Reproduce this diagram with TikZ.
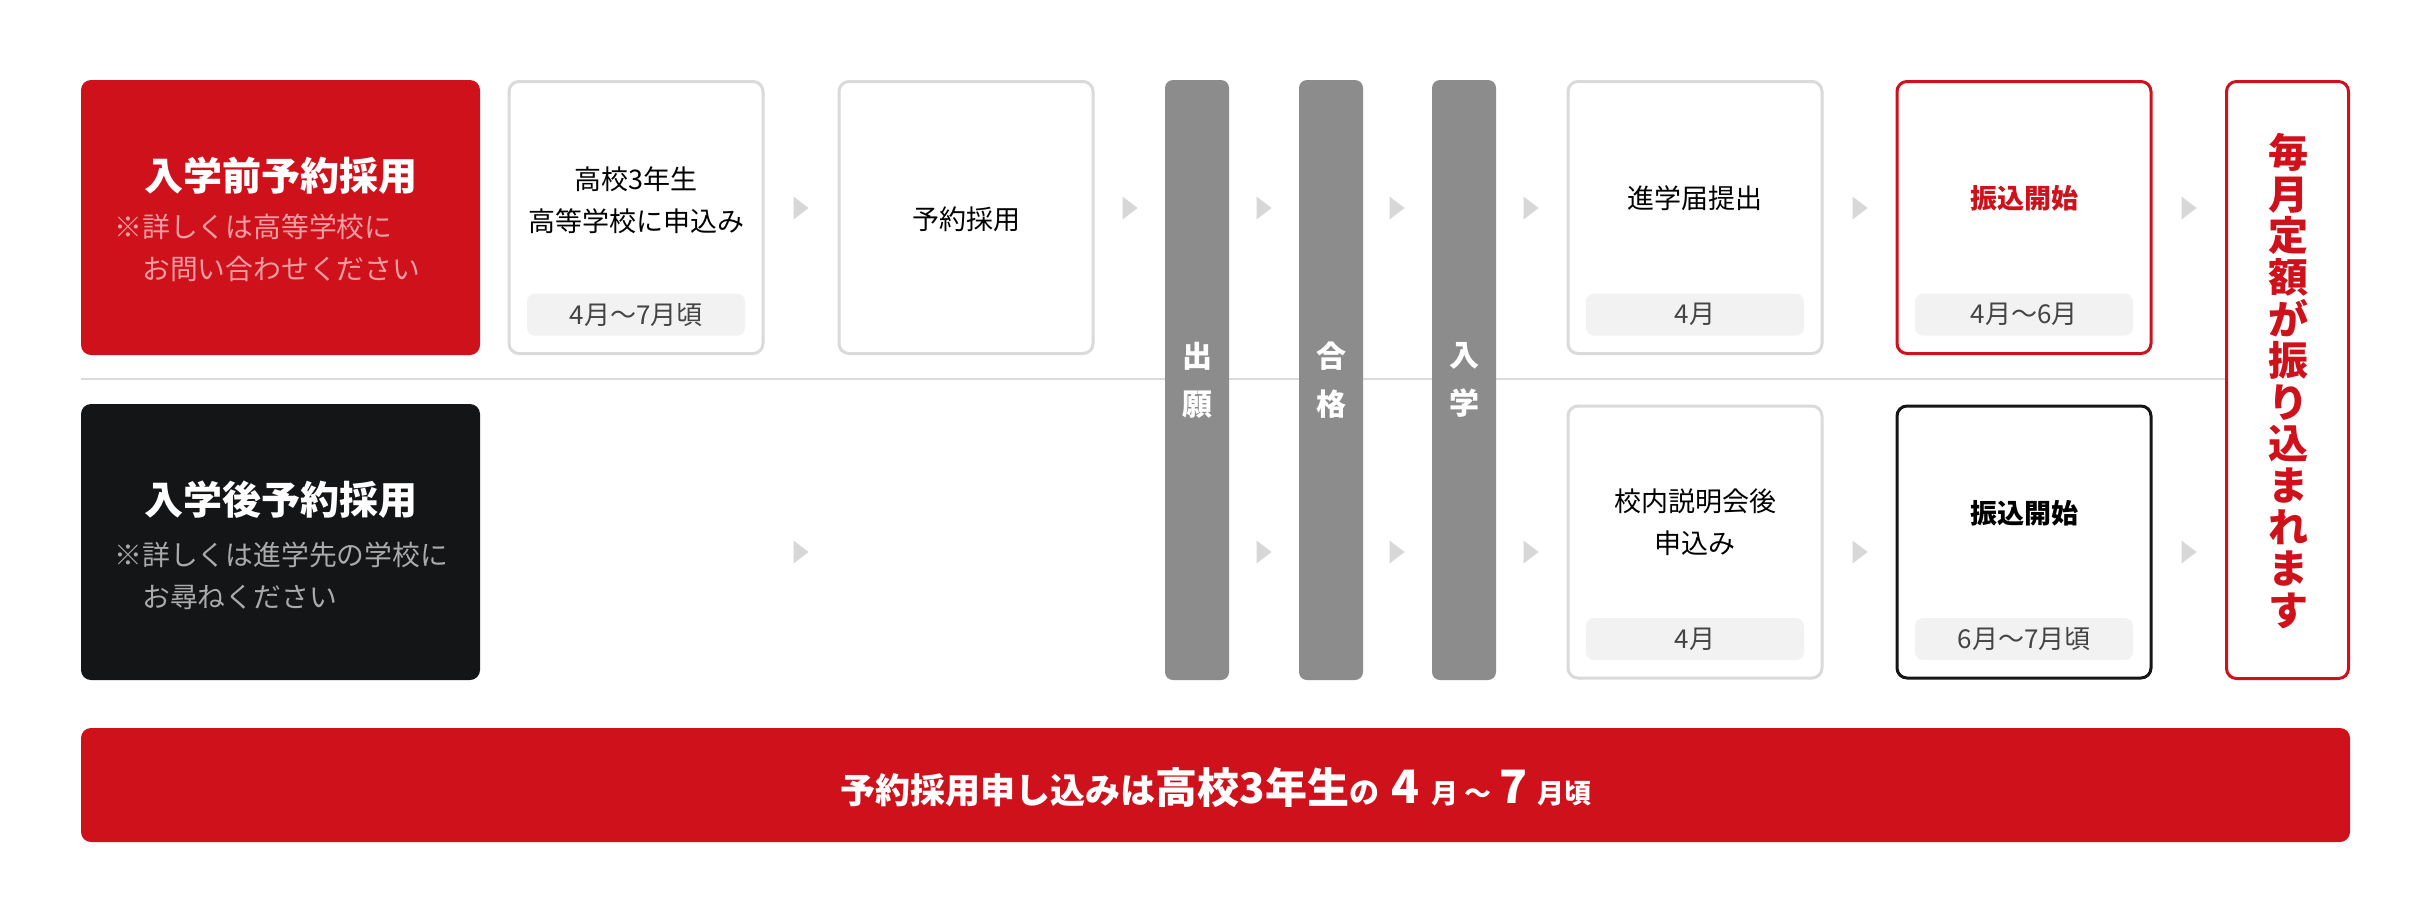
\documentclass[tikz,border=0pt]{standalone}
\usepackage{fontspec}
\setmainfont{Noto Sans CJK JP}
\usetikzlibrary{positioning}

\definecolor{xred}{RGB}{206,17,27}
\definecolor{xpink}{RGB}{242,158,163}
\definecolor{xblack}{RGB}{20,21,23}
\definecolor{xsub}{RGB}{170,170,170}
\definecolor{xbar}{RGB}{140,140,140}
\definecolor{xline}{RGB}{218,218,218}
\definecolor{xtag}{RGB}{242,242,242}
\definecolor{xtagtext}{RGB}{68,68,68}
\definecolor{xarrow}{RGB}{215,215,215}

\begin{document}
\begin{tikzpicture}[x=0.5pt, y=-0.5pt,
  kind/.style={shape = rectangle, rounded corners = 5pt, minimum width = 199.5pt, minimum height = 137.5pt, inner sep = 0pt},
  stepbox/.style={draw = xline, line width = 1.5pt, fill = white, shape = rectangle, rounded corners = 5pt, minimum width = 127pt, minimum height = 136pt, inner sep = 0pt},
  tag/.style={fill = xtag, rounded corners = 4pt, minimum width = 109pt, minimum height = 21pt, inner sep = 0pt, text = xtagtext, font = \fontsize{13pt}{16pt}\selectfont},
  steptext/.style={align = center, inner sep = 0pt, font = \fontsize{13.5pt}{21pt}\selectfont},
  bar/.style={fill = xbar, rounded corners = 4pt, minimum width = 32pt, minimum height = 300pt, inner sep = 0pt},
  bartext/.style={align = center, inner sep = 0pt, text = white, font = \bfseries\fontsize{15pt}{24pt}\selectfont},
  title/.style={inner sep = 0pt, text = white, font = \bfseries\fontsize{19.5pt}{22pt}\selectfont},
  note/.style={align = left, inner sep = 0pt, anchor = west, font = \fontsize{13.9pt}{21pt}\selectfont}]
\fill[white] (0,0) rectangle (2432,922);
\useasboundingbox (0,0) rectangle (2432,922);

% divider between the two rows
\draw[xline, line width = 1pt] (81,379) -- (2225,379);

% left labels
\node[kind, fill = xred] (10) at (280.5,217.5) {};
\node[title] (10t) at (280.5,176) {入学前予約採用};
\node[note, text = xpink] (10n) at (114,248) {※詳しくは高等学校に\\　お問い合わせください};
\node[kind, fill = xblack, minimum height = 138pt] (20) at (280.5,542) {};
\node[title] (20t) at (280.5,500) {入学後予約採用};
\node[note, text = xsub] (20n) at (114,576) {※詳しくは進学先の学校に\\　お尋ねください};

% first row
\node[stepbox] (11) at (636,217.5) {};
\node[steptext] (11t) at (636,200) {高校3年生\\高等学校に申込み};
\node[tag, above = 9.5pt of 11.south] (11d) {4月〜7月頃};
\node[stepbox] (12) at (966,217.5) {};
\node[steptext] (12t) at (966,219) {予約採用};
\node[stepbox] (13) at (1695,217.5) {};
\node[steptext] (13t) at (1695,198) {進学届提出};
\node[tag, above = 9.5pt of 13.south] (13d) {4月};
\node[stepbox, draw = xred] (14) at (2024,217.5) {};
\node[steptext, text = xred, font = \bfseries\fontsize{13.5pt}{21pt}\selectfont] (14t) at (2024,198) {振込開始};
\node[tag, above = 9.5pt of 14.south] (14d) {4月〜6月};

% second row
\node[stepbox] (23) at (1695,542) {};
\node[steptext] (23t) at (1695,522) {校内説明会後\\申込み};
\node[tag, above = 9.5pt of 23.south] (23d) {4月};
\node[stepbox, draw = xblack] (24) at (2024,542) {};
\node[steptext, font = \bfseries\fontsize{13.5pt}{21pt}\selectfont] (24t) at (2024,513) {振込開始};
\node[tag, above = 9.5pt of 24.south] (24d) {6月〜7月頃};

% common steps
\node[bar] (31) at (1197,380) {};
\node[bartext] at (31) {出\\願};
\node[bar] (32) at (1331,380) {};
\node[bartext] at (32) {合\\格};
\node[bar] (33) at (1464,380) {};
\node[bartext] at (33) {入\\学};

% result
\node[draw = xred, line width = 1.5pt, fill = white, rounded corners = 5pt, minimum width = 61pt, minimum height = 298.5pt, inner sep = 0pt] (40) at (2287.5,380) {};
\node[align = center, inner sep = 0pt, text = xred, font = \bfseries\fontsize{20pt}{20.8pt}\selectfont] (40t) at (2288,381) {毎\\月\\定\\額\\が\\振\\り\\込\\ま\\れ\\ま\\す};

% arrow marks
\foreach \x in {801,1130,1264,1397,1531,1860,2189}
  \fill[xarrow] (\x-7.5,196.5) -- (\x+7.5,208) -- (\x-7.5,219.5) -- cycle;
\foreach \x in {801,1264,1397,1531,1860,2189}
  \fill[xarrow] (\x-7.5,540.5) -- (\x+7.5,552) -- (\x-7.5,563.5) -- cycle;

% bottom band
\node[fill = xred, rounded corners = 5pt, minimum width = 1134.5pt, minimum height = 57pt, inner sep = 0pt] (50) at (1215.5,785) {};
\node[inner sep = 0pt, text = white, font = \bfseries] (50t) at (1216,788) {{\fontsize{17.5pt}{20pt}\selectfont 予約採用申し込みは}{\fontsize{21pt}{24pt}\selectfont 高校3年生}{\fontsize{15pt}{18pt}\selectfont の}\hspace{6pt}{\fontsize{23pt}{26pt}\selectfont 4}\hspace{6pt}{\fontsize{13.5pt}{16pt}\selectfont 月\hspace{3pt}〜\hspace{4pt}}{\fontsize{23pt}{26pt}\selectfont 7}\hspace{5pt}{\fontsize{13.5pt}{16pt}\selectfont 月頃}};
\end{tikzpicture}
\end{document}
